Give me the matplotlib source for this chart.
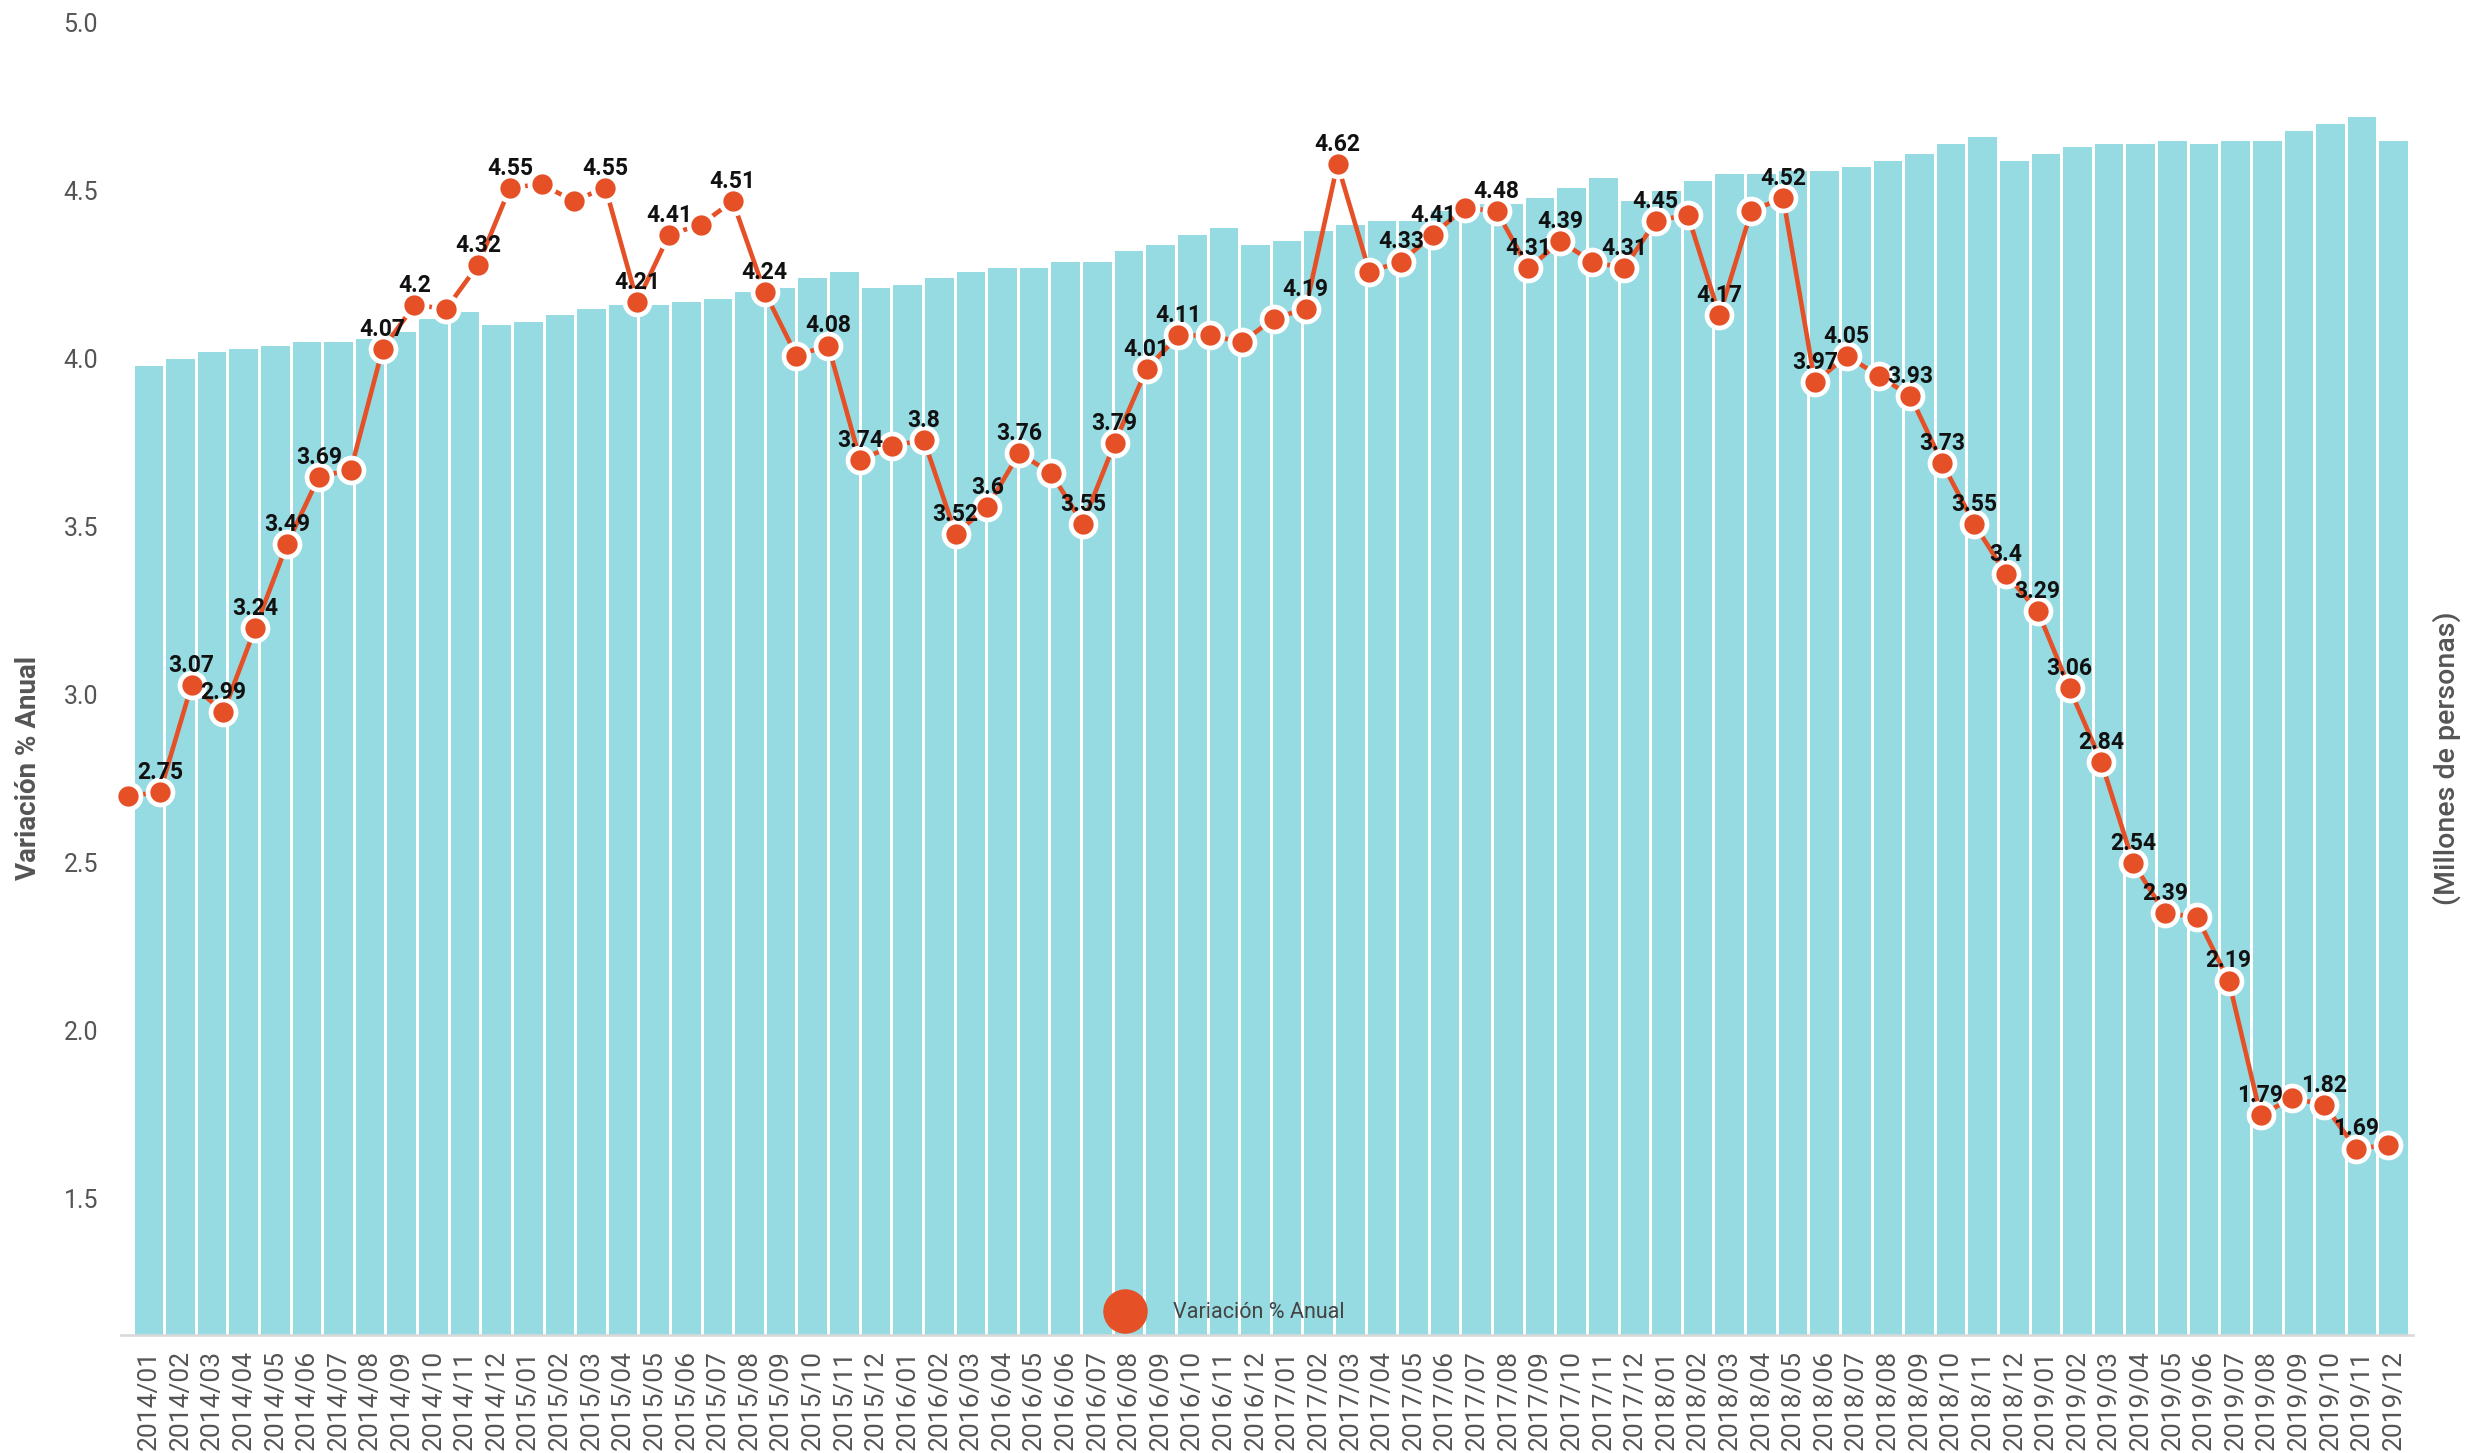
import numpy as np
import matplotlib
matplotlib.use("Agg")
import matplotlib.pyplot as plt
from matplotlib.lines import Line2D

plt.rcParams['font.family'] = ['Roboto', 'DejaVu Sans']

# Monthly categories 2014/01 .. 2019/12
meses = [f"{y}/{m:02d}" for y in range(2014, 2020) for m in range(1, 13)]

# Annual % change (line series)
variacion = [
    2.74, 2.75, 3.07, 2.99, 3.24, 3.49, 3.69, 3.71, 4.07, 4.20, 4.19, 4.32,
    4.55, 4.56, 4.51, 4.55, 4.21, 4.41, 4.44, 4.51, 4.24, 4.05, 4.08, 3.74,
    3.78, 3.80, 3.52, 3.60, 3.76, 3.70, 3.55, 3.79, 4.01, 4.11, 4.11, 4.09,
    4.16, 4.19, 4.62, 4.30, 4.33, 4.41, 4.49, 4.48, 4.31, 4.39, 4.33, 4.31,
    4.45, 4.47, 4.17, 4.48, 4.52, 3.97, 4.05, 3.99, 3.93, 3.73, 3.55, 3.40,
    3.29, 3.06, 2.84, 2.54, 2.39, 2.38, 2.19, 1.79, 1.84, 1.82, 1.69, 1.70,
]

# Months whose value is printed above the point
meses_etiqueta = [
    "2014/02", "2014/03", "2014/04", "2014/05", "2014/06", "2014/07", "2014/09",
    "2014/10", "2014/12", "2015/01", "2015/04", "2015/05", "2015/06", "2015/08",
    "2015/09", "2015/11", "2015/12", "2016/02", "2016/03", "2016/04", "2016/05",
    "2016/07", "2016/08", "2016/09", "2016/10", "2017/02", "2017/03", "2017/05",
    "2017/06", "2017/08", "2017/09", "2017/10", "2017/12", "2018/01", "2018/03",
    "2018/05", "2018/06", "2018/07", "2018/09", "2018/10", "2018/11", "2018/12",
    "2019/01", "2019/02", "2019/03", "2019/04", "2019/05", "2019/07", "2019/08",
    "2019/10", "2019/11",
]

# Employed persons (bar series, secondary scale)
personas = [
    4.02, 4.04, 4.06, 4.07, 4.08, 4.09, 4.09, 4.10, 4.12, 4.16, 4.18, 4.14,
    4.15, 4.17, 4.19, 4.20, 4.20, 4.21, 4.22, 4.24, 4.25, 4.28, 4.30, 4.25,
    4.26, 4.28, 4.30, 4.31, 4.31, 4.33, 4.33, 4.36, 4.38, 4.41, 4.43, 4.38,
    4.39, 4.42, 4.44, 4.45, 4.45, 4.48, 4.50, 4.50, 4.52, 4.55, 4.58, 4.51,
    4.54, 4.57, 4.59, 4.59, 4.60, 4.60, 4.61, 4.63, 4.65, 4.68, 4.70, 4.63,
    4.65, 4.67, 4.68, 4.68, 4.69, 4.68, 4.69, 4.69, 4.72, 4.74, 4.76, 4.69,
]

ROJO = "#E55027"
CIAN = "#96DAE2"
GRIS = "#555555"

W, H = 2480, 1453
fig = plt.figure(figsize=(W / 100, H / 100), dpi=100)
left_px, right_px, bottom_px, top_px = 121, 2413, 1335, 23
rect = [left_px / W, 1 - bottom_px / H, (right_px - left_px) / W, (bottom_px - top_px) / H]

# value axis: starts at 1.04 with a 0.5 step, labels shown with one decimal
eje_base, eje_paso, eje_max = 1.04, 0.5, 5.04
y_min = 1.135
ticks = [eje_base + eje_paso * k for k in range(1, 9)]

# --- bars ---
ax_bar = fig.add_axes(rect)
xb = np.arange(len(meses))
ax_bar.bar(xb, personas, width=0.905, color=CIAN, zorder=1)
ax_bar.set_xlim(-0.88, 71.61)
ax_bar.set_ylim(y_min, eje_max)
ax_bar.set_xticks(xb, meses, rotation=90)
ax_bar.tick_params(axis='x', length=0, pad=11, labelsize=19, labelcolor=GRIS)
ax_bar.set_yticks([])
for s in ("top", "left", "right"):
    ax_bar.spines[s].set_visible(False)
ax_bar.spines["bottom"].set_color("#d9d9d9")
ax_bar.spines["bottom"].set_linewidth(1.9)
ax_bar.spines["bottom"].set_zorder(2)

# --- line ---
ax_line = fig.add_axes(rect, facecolor="none")
xl = np.arange(len(meses))
ax_line.plot(xl, variacion, color=ROJO, lw=3.3, marker="o", ms=18,
             mfc=ROJO, mec="white", mew=3.4, zorder=3, clip_on=False)
ax_line.set_xlim(-0.22, 71.79)
ax_line.set_ylim(y_min, eje_max)
ax_line.set_xticks([])
ax_line.set_yticks(ticks, [f"{t:.1f}" for t in ticks])
ax_line.tick_params(axis='y', length=0, pad=16.5, labelsize=18, labelcolor=GRIS)
for s in ax_line.spines.values():
    s.set_visible(False)

for i, (mes, v) in enumerate(zip(meses, variacion)):
    if mes in meses_etiqueta:
        ax_line.annotate(f"{v:g}", (i, v), xytext=(0, 9.4), textcoords="offset points",
                         ha="center", va="baseline", fontsize=16.5, fontweight="bold",
                         color="#111111", zorder=4, annotation_clip=False)

handle = Line2D([], [], ls="none", marker="o", ms=31, color=ROJO)
ax_line.legend(handles=[handle], labels=["Variación % Anual"], loc="center",
               bbox_to_anchor=(0.4935, 0.0964), bbox_transform=fig.transFigure,
               frameon=False, fontsize=15.5, labelcolor="#444444",
               handlelength=2, handletextpad=1.25)

fig.text(0.0113, 0.4714, "Variación % Anual", rotation=90, ha="center", va="center",
         fontsize=20, color=GRIS, fontweight="bold")
fig.text(0.9867, 0.4783, "(Millones de personas)", rotation=90, ha="center", va="center",
         fontsize=20.5, color=GRIS, fontweight="medium")

fig.savefig("out.png", dpi=100)
